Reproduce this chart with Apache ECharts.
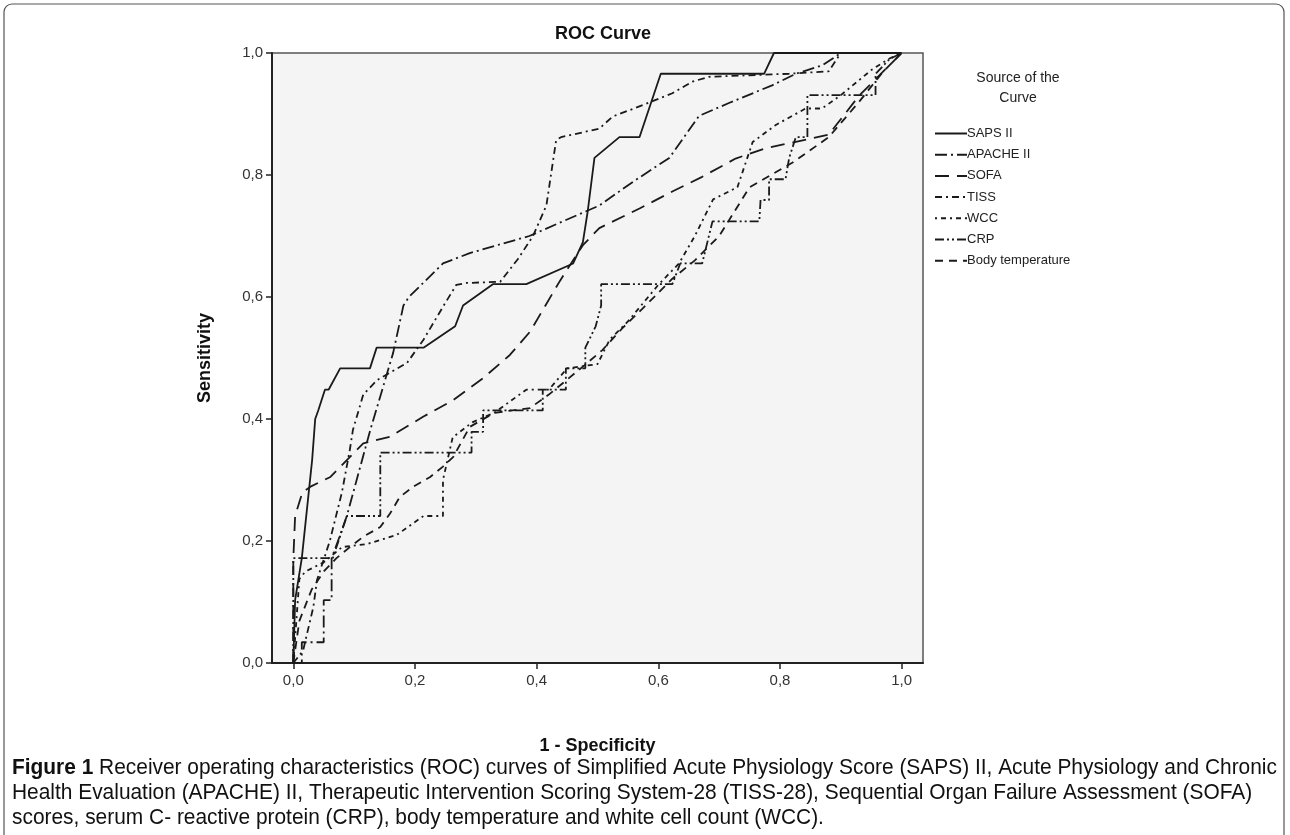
<!DOCTYPE html>
<html>
<head>
<meta charset="utf-8">
<script src="https://cdn.jsdelivr.net/npm/echarts@6/dist/echarts.min.js"></script>
<style>
  html, body { margin: 0; padding: 0; background: #fff; }
  #main { width: 1290px; height: 835px; }
</style>
</head>
<body>
<div id="main"></div>
<script>
// ROC points [1 - specificity, sensitivity]
var sapsII = [[0,0],[0.003,0.103],[0.014,0.172],[0.031,0.333],[0.036,0.4],[0.041,0.414],[0.052,0.448],[0.058,0.448],[0.077,0.483],[0.126,0.483],[0.137,0.517],[0.214,0.517],[0.266,0.552],[0.279,0.586],[0.328,0.621],[0.383,0.621],[0.46,0.655],[0.476,0.69],[0.484,0.741],[0.495,0.828],[0.536,0.862],[0.569,0.862],[0.604,0.966],[0.774,0.966],[0.79,1],[1,1]];
var apacheII = [[0,0],[0.014,0],[0.014,0.034],[0.05,0.034],[0.05,0.103],[0.063,0.103],[0.063,0.172],[0.076,0.207],[0.088,0.241],[0.126,0.38],[0.164,0.508],[0.181,0.586],[0.19,0.6],[0.246,0.655],[0.29,0.672],[0.388,0.7],[0.443,0.724],[0.503,0.75],[0.56,0.79],[0.618,0.828],[0.667,0.897],[0.716,0.918],[0.787,0.947],[0.826,0.966],[0.87,0.98],[0.9,1],[1,1]];
var sofa = [[0,0],[0,0.17],[0.003,0.241],[0.015,0.28],[0.03,0.29],[0.061,0.305],[0.115,0.36],[0.159,0.371],[0.214,0.404],[0.263,0.431],[0.312,0.467],[0.356,0.505],[0.389,0.543],[0.438,0.626],[0.476,0.685],[0.503,0.713],[0.569,0.745],[0.623,0.773],[0.672,0.797],[0.727,0.827],[0.777,0.844],[0.88,0.866],[0.93,0.93],[1,1]];
var tiss = [[0,0],[0.016,0.02],[0.033,0.092],[0.039,0.136],[0.06,0.2],[0.08,0.28],[0.093,0.35],[0.098,0.382],[0.115,0.44],[0.138,0.464],[0.187,0.492],[0.214,0.53],[0.246,0.584],[0.268,0.62],[0.285,0.623],[0.34,0.625],[0.369,0.662],[0.394,0.7],[0.416,0.75],[0.432,0.857],[0.44,0.862],[0.503,0.876],[0.525,0.896],[0.56,0.909],[0.623,0.934],[0.656,0.953],[0.683,0.961],[0.815,0.966],[0.88,0.97],[0.9,1],[1,1]];
var wcc = [[0,0],[0.005,0.069],[0.01,0.138],[0.02,0.15],[0.05,0.165],[0.08,0.19],[0.121,0.195],[0.17,0.21],[0.214,0.241],[0.246,0.241],[0.246,0.3],[0.262,0.37],[0.295,0.395],[0.33,0.41],[0.383,0.448],[0.42,0.448],[0.45,0.483],[0.5,0.49],[0.52,0.53],[0.55,0.56],[0.6,0.62],[0.634,0.655],[0.66,0.7],[0.69,0.76],[0.73,0.78],[0.755,0.854],[0.793,0.882],[0.842,0.909],[0.869,0.909],[0.9,0.931],[0.95,0.972],[0.978,0.99],[1,1]];
var crp = [[0,0],[0,0.172],[0.065,0.172],[0.088,0.241],[0.143,0.241],[0.143,0.345],[0.293,0.345],[0.293,0.379],[0.312,0.379],[0.312,0.414],[0.41,0.414],[0.41,0.448],[0.448,0.448],[0.448,0.483],[0.48,0.483],[0.48,0.517],[0.497,0.552],[0.506,0.586],[0.506,0.621],[0.623,0.621],[0.636,0.655],[0.672,0.655],[0.689,0.724],[0.766,0.724],[0.768,0.759],[0.782,0.759],[0.782,0.793],[0.809,0.793],[0.815,0.828],[0.826,0.862],[0.845,0.862],[0.845,0.931],[0.957,0.931],[0.957,0.966],[0.98,0.99],[1,1]];
var bodyTemp = [[0,0],[0.01,0.069],[0.03,0.12],[0.05,0.15],[0.071,0.172],[0.093,0.19],[0.115,0.207],[0.143,0.223],[0.159,0.245],[0.175,0.272],[0.197,0.289],[0.225,0.305],[0.246,0.322],[0.263,0.338],[0.29,0.387],[0.33,0.41],[0.389,0.418],[0.42,0.44],[0.475,0.485],[0.508,0.513],[0.541,0.549],[0.574,0.581],[0.623,0.63],[0.66,0.66],[0.7,0.7],[0.75,0.78],[0.82,0.82],[0.88,0.862],[0.93,0.92],[0.97,0.97],[1,1]];

var tickValues = [0, 0.2, 0.4, 0.6, 0.8, 1.0];
var seriesNames = ['SAPS II', 'APACHE II', 'SOFA', 'TISS', 'WCC', 'CRP', 'Body temperature'];

var lineDash = {
    'SAPS II': 'solid',
    'APACHE II': [12, 4, 2, 4],
    'SOFA': [14, 8],
    'TISS': [7, 4, 2, 4],
    'WCC': [2, 4, 5, 4],
    'CRP': [9, 3, 2, 3, 2, 3],
    'Body temperature': [8, 6]
};
var seriesData = [sapsII, apacheII, sofa, tiss, wcc, crp, bodyTemp];

function fmt(v) {
    return v.toFixed(1).replace('.', ',');
}

var baseFont = '"Liberation Sans", Arial, sans-serif';

// caption is drawn a bit condensed, like the figure's narrow typeface
function captionLine(y, text) {
    return {
        type: 'text',
        x: 12,
        y: y,
        scaleX: 0.95,
        style: {
            text: text,
            rich: { b: { fontWeight: 'bold', fontFamily: baseFont, fontSize: 22, fill: '#111' } },
            fontFamily: baseFont,
            fontSize: 22,
            fill: '#111',
            verticalAlign: 'middle'
        }
    };
}

var option = {
    animation: false,
    backgroundColor: '#ffffff',
    title: {
        text: 'ROC Curve',
        left: 598,
        top: 20,
        textAlign: 'center',
        textStyle: { fontFamily: baseFont, fontSize: 18, fontWeight: 'bold', color: '#111' }
    },
    legend: {
        orient: 'vertical',
        left: 929,
        top: 122,
        itemWidth: 32,
        itemHeight: 12,
        itemGap: 8.2,
        data: seriesNames,
        itemStyle: { opacity: 0 },
        textStyle: { fontFamily: baseFont, fontSize: 13, color: '#222', padding: [0, 0, 0, -5] }
    },
    grid: {
        left: 272,
        right: 367,
        top: 53,
        bottom: 172,
        show: true,
        backgroundColor: '#f4f4f4',
        borderColor: '#555',
        borderWidth: 1.5
    },
    xAxis: {
        type: 'value',
        min: -0.035,
        max: 1.035,
        name: '1 - Specificity',
        nameLocation: 'middle',
        nameGap: 74,
        nameTextStyle: { fontFamily: baseFont, fontSize: 18, fontWeight: 'bold', color: '#111' },
        axisLine: { onZero: false, lineStyle: { color: '#222', width: 2 } },
        axisTick: { show: true, length: 6, customValues: tickValues, lineStyle: { color: '#222', width: 1.5 } },
        axisLabel: { customValues: tickValues, formatter: fmt, margin: 10, fontFamily: baseFont, fontSize: 15, color: '#333' },
        splitLine: { show: false }
    },
    yAxis: {
        type: 'value',
        min: 0,
        max: 1,
        interval: 0.2,
        name: 'Sensitivity',
        nameLocation: 'middle',
        nameGap: 58,
        nameTextStyle: { fontFamily: baseFont, fontSize: 18, fontWeight: 'bold', color: '#111' },
        axisLine: { show: true, onZero: false, lineStyle: { color: '#222', width: 2 } },
        axisTick: { show: true, length: 6, lineStyle: { color: '#222', width: 1.5 } },
        axisLabel: { formatter: fmt, margin: 9, fontFamily: baseFont, fontSize: 15, color: '#333' },
        splitLine: { show: false }
    },
    graphic: [
        {
            type: 'rect',
            shape: { x: 4, y: 4, width: 1280, height: 850, r: 8 },
            style: { fill: 'none', stroke: '#555', lineWidth: 1.2 },
            silent: true
        },
        {
            type: 'text',
            x: 1018,
            y: 68,
            style: {
                text: 'Source of the\nCurve',
                align: 'center',
                fontFamily: baseFont,
                fontSize: 14,
                lineHeight: 20,
                fill: '#222'
            }
        },
        captionLine(768, '{b|Figure 1} Receiver operating characteristics (ROC) curves of Simplified Acute Physiology Score (SAPS) II, Acute Physiology and Chronic'),
        captionLine(793, 'Health Evaluation (APACHE) II, Therapeutic Intervention Scoring System-28 (TISS-28), Sequential Organ Failure Assessment (SOFA)'),
        captionLine(818, 'scores, serum C- reactive protein (CRP), body temperature and white cell count (WCC).')
    ],
    series: seriesNames.map(function (name, i) {
        return {
            name: name,
            type: 'line',
            data: seriesData[i],
            showSymbol: false,
            symbol: 'none',
            color: '#1a1a1a',
            lineStyle: { color: '#1a1a1a', width: 1.8, type: lineDash[name] }
        };
    })
};

var myChart = echarts.init(document.getElementById('main'));
myChart.setOption(option);
</script>
</body>
</html>
